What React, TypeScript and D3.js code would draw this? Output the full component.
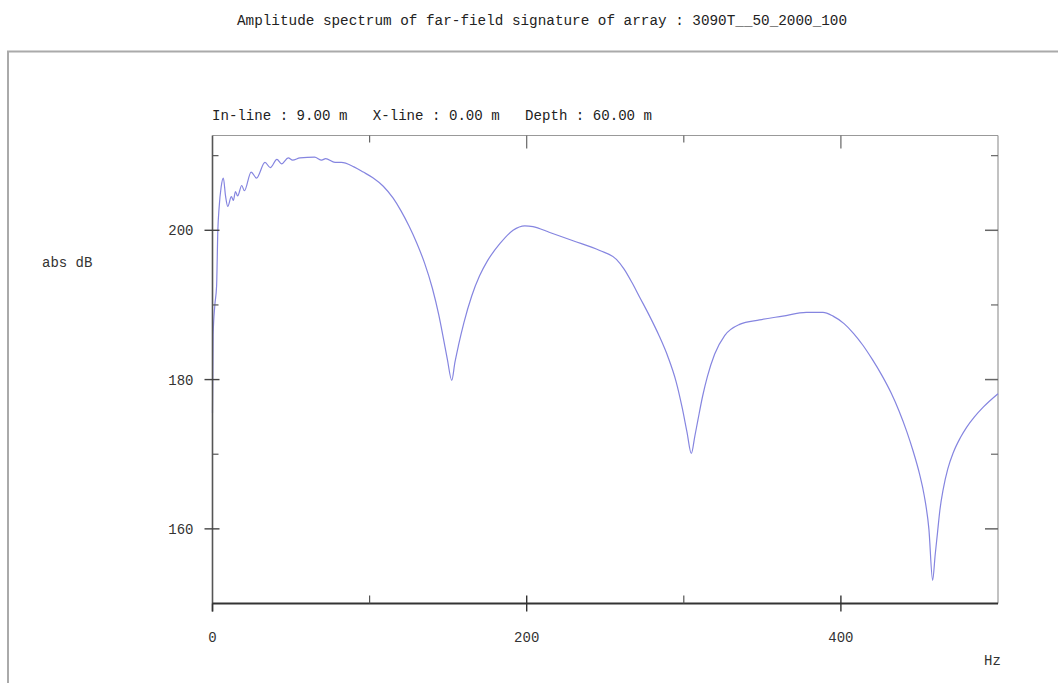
import React from "react";
import * as d3 from "d3";

const TITLE = "Amplitude spectrum of far-field signature of array : 3090T__50_2000_100";
const HEADER = "In-line : 9.00 m   X-line : 0.00 m   Depth : 60.00 m";
const Y_LABEL = "abs dB";
const X_LABEL = "Hz";

const xTickLabels = [0, 200, 400];
const xMinorTicks = [100, 300];
const yTickLabels = [160, 180, 200];
const yMinorTicks = [170, 190, 210];

// frequency (Hz)
const freq = [
  0, 0.4, 1.5, 2.6, 3.4, 4.2, 5.5, 6.9, 8.3, 9.7, 12, 13.3, 14.6, 16, 18.6, 20.3,
  24.6, 28, 33.4, 36.8, 41, 44, 48.2, 51, 55.7, 65, 69.5, 72, 78, 82, 90, 96,
  102.3, 108.7, 115, 120, 125, 130, 135, 140, 144, 147, 149.5, 152.3, 154.3,
  156.6, 160, 165, 170, 175, 182.9, 191.3, 198.8, 204, 214.7, 229.5, 246.5,
  257.1, 262, 267, 272, 278, 284, 290, 295, 299, 302, 304.8, 307, 309, 312, 315,
  319.6, 326, 335.5, 348.2, 363, 378, 388.6, 395, 402, 408, 414, 420, 426, 432,
  437, 442, 446, 450, 453, 456, 458.4, 460, 461.5, 463, 465.2, 468, 471.5, 476,
  480, 485, 490.6, 500,
];
// amplitude (abs dB)
const amp = [
  175.5, 186, 190, 192.5, 200, 203, 205.8, 207.0, 204.6, 203.2, 204.5, 204.0, 205.2, 204.6, 206.0, 205.3,
  207.8, 207.0, 209.1, 208.4, 209.5, 208.9, 209.7, 209.4, 209.7, 209.8, 209.4, 209.6, 209.1, 209.1, 208.5, 207.8,
  207.0, 205.9, 204.3, 202.6, 200.6, 198.3, 195.6, 192.2, 188.7, 185.5, 182.7, 179.9, 182.3,
  184.6, 187.6, 191.2, 193.9, 195.9, 198.2, 200.0, 200.6, 200.5, 199.7, 198.6, 197.3,
  196.1, 194.8, 193.0, 191.0, 188.6, 186.0, 183.0, 179.8, 176.2, 173.0, 170.1, 172.4, 174.6, 177.8, 180.4,
  183.4, 185.9, 187.4, 188.0, 188.5, 189.0, 189.0, 188.5, 187.5, 186.2, 184.6, 182.7, 180.6, 178.2,
  175.8, 173.0, 170.4, 167.4, 164.5, 160.0, 153.1, 156.5, 159.5, 162.5, 165.4, 168.0, 170.2, 172.2,
  173.6, 175.0, 176.3, 178.1,
];

const W = 1058;
const H = 683;
const FONT = "'Liberation Mono', 'DejaVu Sans Mono', monospace";

export default function App() {
  const x = d3.scaleLinear().domain([0, 500]).range([212.5, 998]);
  const y = d3.scaleLinear().domain([150, 212.7]).range([603.5, 135.5]);
  const data = freq.map((f, i) => [f, amp[i]] as [number, number]);
  const line = d3
    .line<[number, number]>()
    .x((d) => x(d[0]))
    .y((d) => y(d[1]))
    .curve(d3.curveMonotoneX);

  const x0 = x(0);
  const x1 = x(500);
  const yTop = y(212.7);
  const yBot = y(150);

  return (
    <svg
      width={W}
      height={H}
      style={{ position: "absolute", left: 0, top: 0, background: "#fff" }}
    >
      <rect x={0} y={0} width={W} height={H} fill="#fff" />
      {/* title */}
      <text
        x={237}
        y={25}
        fontFamily={FONT}
        fontSize={14}
        fill="#222"
        textLength={610}
        lengthAdjust="spacingAndGlyphs"
        style={{ whiteSpace: "pre" }}
      >
        {TITLE}
      </text>
      {/* outer frame */}
      <path d={`M8,${H} L8,51.5 L${W},51.5`} fill="none" stroke="#aaa" strokeWidth={2} />

      {/* header */}
      <text
        x={212}
        y={120}
        fontFamily={FONT}
        fontSize={14}
        fill="#222"
        textLength={440}
        lengthAdjust="spacingAndGlyphs"
        style={{ whiteSpace: "pre" }}
      >
        {HEADER}
      </text>

      {/* plot frame: top & right light, left & bottom dark */}
      <line x1={x0} x2={x1} y1={yTop} y2={yTop} stroke="#999" strokeWidth={1.2} />
      <line x1={x1} x2={x1} y1={yTop} y2={yBot} stroke="#999" strokeWidth={1.2} />

      {/* top ticks */}
      {xMinorTicks.map((t) => (
        <line key={"tm" + t} x1={x(t)} x2={x(t)} y1={yTop} y2={yTop + 7} stroke="#666" strokeWidth={1.2} />
      ))}
      {xTickLabels
        .filter((t) => t > 0)
        .map((t) => (
          <line key={"tM" + t} x1={x(t)} x2={x(t)} y1={yTop} y2={yTop + 13} stroke="#666" strokeWidth={1.2} />
        ))}

      {/* right ticks */}
      {yMinorTicks.map((t) => (
        <line key={"rm" + t} x1={x1 - 7} x2={x1} y1={y(t)} y2={y(t)} stroke="#666" strokeWidth={1.2} />
      ))}
      {yTickLabels.map((t) => (
        <line key={"rM" + t} x1={x1 - 13} x2={x1} y1={y(t)} y2={y(t)} stroke="#666" strokeWidth={1.5} />
      ))}

      {/* curve */}
      <path d={line(data) || ""} fill="none" stroke="#8585e0" strokeWidth={1.2} />

      {/* left axis */}
      <line x1={x0} x2={x0} y1={yTop} y2={yBot + 8} stroke="#555" strokeWidth={1.6} />
      {yMinorTicks.map((t) => (
        <line key={"lm" + t} x1={x0} x2={x0 + 6} y1={y(t)} y2={y(t)} stroke="#555" strokeWidth={1.2} />
      ))}
      {yTickLabels.map((t) => (
        <g key={"lM" + t}>
          <line x1={x0 - 8} x2={x0 + 7} y1={y(t)} y2={y(t)} stroke="#444" strokeWidth={1.4} />
          <text
            x={x0 - 19}
            y={y(t) + 5}
            textAnchor="end"
            fontFamily={FONT}
            fontSize={14}
            fill="#333"
          >
            {t}
          </text>
        </g>
      ))}
      <text x={42} y={267} fontFamily={FONT} fontSize={14} fill="#333">
        {Y_LABEL}
      </text>

      {/* bottom axis */}
      <line x1={x0} x2={x1} y1={yBot} y2={yBot} stroke="#333" strokeWidth={2} />
      {xMinorTicks.map((t) => (
        <line key={"bm" + t} x1={x(t)} x2={x(t)} y1={yBot - 8} y2={yBot} stroke="#555" strokeWidth={1.2} />
      ))}
      {xTickLabels.map((t) => (
        <g key={"bM" + t}>
          <line
            x1={x(t)}
            x2={x(t)}
            y1={t === 0 ? yBot : yBot - 8}
            y2={yBot + 8}
            stroke="#333"
            strokeWidth={1.4}
          />
          <text
            x={x(t)}
            y={642}
            textAnchor="middle"
            fontFamily={FONT}
            fontSize={14}
            fill="#333"
          >
            {t}
          </text>
        </g>
      ))}
      <text x={984} y={665} fontFamily={FONT} fontSize={14} fill="#333">
        {X_LABEL}
      </text>
    </svg>
  );
}
